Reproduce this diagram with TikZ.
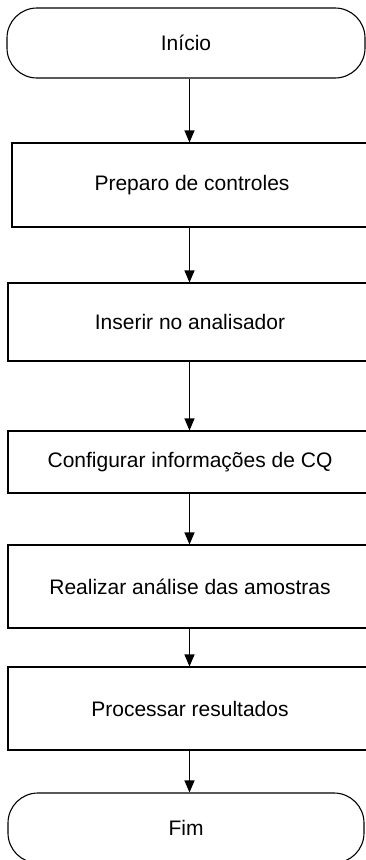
\documentclass[tikz,border=0pt]{standalone}
\usepackage{fontspec}
\setmainfont{Liberation Sans}
\usepackage{tikz}
\usetikzlibrary{arrows.meta,positioning}

\begin{document}
\begin{tikzpicture}[x=1pt,y=-1pt,
  font=\fontsize{21}{25}\selectfont,
  terminal/.style={draw,line width=1.1pt,rounded corners=30pt,minimum height=70pt,inner sep=0pt},
  etapa/.style={draw,line width=1.1pt,minimum width=364pt,inner sep=0pt},
  seta/.style={line width=1.1pt,-{Triangle[length=12pt,width=10pt]}}]
\useasboundingbox (0,0) rectangle (366,860);
\coordinate (spine) at (189.5,0);
\node[terminal,minimum width=358pt] (inicio) at (186,43) {Início};
\node[etapa,minimum width=360pt,minimum height=84pt] (preparo) at (192,185) {Preparo de controles};
\node[etapa,minimum height=78pt] (inserir) at (190,322) {Inserir no analisador};
\node[etapa,minimum height=62pt] (config) at (190,462) {Configurar informações de CQ};
\node[etapa,minimum height=83pt] (realizar) at (190,586.5) {Realizar análise das amostras};
\node[etapa,minimum height=83pt] (processar) at (190,708.5) {Processar resultados};
\node[terminal,minimum width=356pt] (fim) at (186,828) {Fim};
\foreach \a/\b in {inicio/preparo,preparo/inserir,inserir/config,config/realizar,realizar/processar,processar/fim}
  \draw[seta] (\a.south -| spine) -- (\b.north -| spine);
\end{tikzpicture}
\end{document}
